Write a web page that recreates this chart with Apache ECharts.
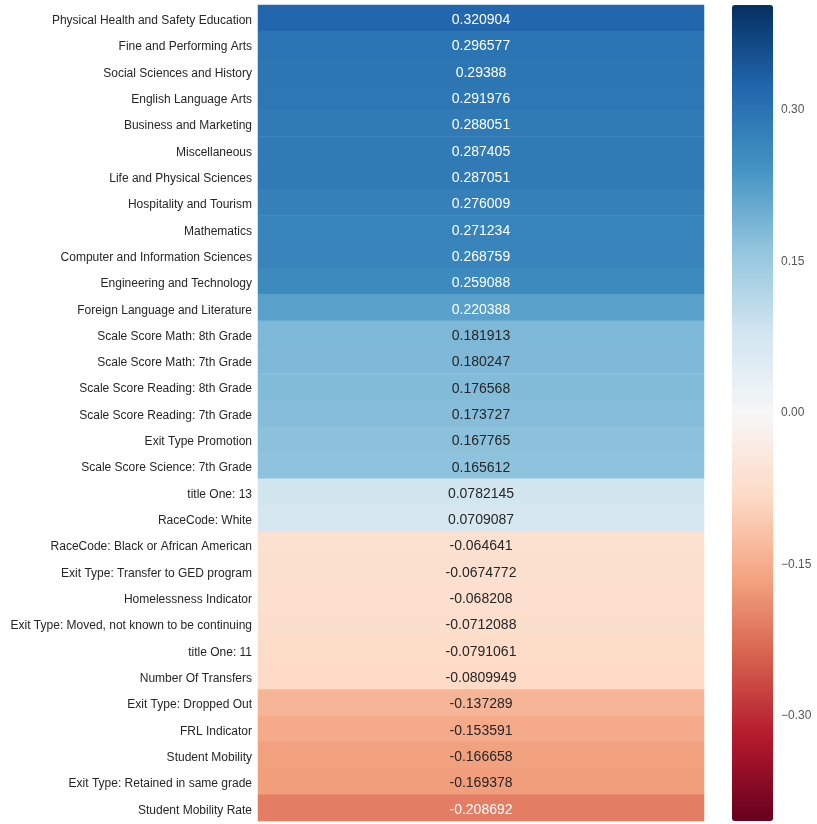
<!DOCTYPE html>
<html>
<head>
<meta charset="utf-8">
<script src="https://cdn.jsdelivr.net/npm/echarts@6/dist/echarts.min.js"></script>
<style>
  html, body { margin: 0; padding: 0; background: #fff; }
  #chart { width: 817px; height: 824px; }
</style>
</head>
<body>
<div id="chart"></div>
<script>
// 特征名称（从上到下）
var features = [
  'Physical Health and Safety Education',
  'Fine and Performing Arts',
  'Social Sciences and History',
  'English Language Arts',
  'Business and Marketing',
  'Miscellaneous',
  'Life and Physical Sciences',
  'Hospitality and Tourism',
  'Mathematics',
  'Computer and Information Sciences',
  'Engineering and Technology',
  'Foreign Language and Literature',
  'Scale Score Math: 8th Grade',
  'Scale Score Math: 7th Grade',
  'Scale Score Reading: 8th Grade',
  'Scale Score Reading: 7th Grade',
  'Exit Type Promotion',
  'Scale Score Science: 7th Grade',
  'title One: 13',
  'RaceCode: White',
  'RaceCode: Black or African American',
  'Exit Type: Transfer to GED program',
  'Homelessness Indicator',
  'Exit Type: Moved, not known to be continuing',
  'title One: 11',
  'Number Of Transfers',
  'Exit Type: Dropped Out',
  'FRL Indicator',
  'Student Mobility',
  'Exit Type: Retained in same grade',
  'Student Mobility Rate'
];
// 相关系数
var corrValues = [
  0.320904, 0.296577, 0.29388, 0.291976, 0.288051, 0.287405, 0.287051,
  0.276009, 0.271234, 0.268759, 0.259088, 0.220388, 0.181913, 0.180247,
  0.176568, 0.173727, 0.167765, 0.165612, 0.0782145, 0.0709087,
  -0.064641, -0.0674772, -0.068208, -0.0712088, -0.0791061, -0.0809949,
  -0.137289, -0.153591, -0.166658, -0.169378, -0.208692
];
var colorbarTicks = [-0.3, -0.15, 0, 0.15, 0.3];
var rdbu = ['#67001f', '#b2182b', '#d6604d', '#f4a582', '#fddbc7', '#f7f7f7',
  '#d1e5f0', '#92c5de', '#4393c3', '#2166ac', '#053061'];
var vLimit = 0.404;

var cells = corrValues.map(function (v, i) {
  return {
    value: [0, i, v],
    label: { color: Math.abs(v) > 0.2 ? '#ffffff' : '#262626' }
  };
});

var chart = echarts.init(document.getElementById('chart'));
chart.setOption({
  animation: false,
  grid: [
    { left: 258, right: 113, top: 5, bottom: 3 },
    { left: 732, width: 41, top: 5, bottom: 3 }
  ],
  xAxis: [
    { type: 'category', data: ['corr'], gridIndex: 0, show: false },
    { type: 'value', gridIndex: 1, show: false }
  ],
  yAxis: [
    {
      type: 'category',
      data: features,
      inverse: true,
      gridIndex: 0,
      axisLine: { show: false },
      axisTick: { show: false },
      splitLine: { show: false },
      axisLabel: {
        color: '#262626', fontSize: 12, margin: 6,
        fontFamily: 'Liberation Sans',
        formatter: '{t|{value}}',
        rich: { t: { padding: [5, 0, 0, 0], fontSize: 12, color: '#262626', fontFamily: 'Liberation Sans' } }
      }
    },
    {
      type: 'value',
      gridIndex: 1,
      min: -vLimit,
      max: vLimit,
      position: 'right',
      axisLine: { show: false },
      axisTick: { show: false },
      splitLine: { show: false },
      axisLabel: {
        customValues: colorbarTicks,
        color: '#555555',
        fontSize: 12,
        margin: 8,
        fontFamily: 'Liberation Sans',
        formatter: function (v) {
          var s = Math.abs(v).toFixed(2);
          return v < -1e-9 ? '\u2212' + s : s;
        }
      }
    }
  ],
  visualMap: {
    type: 'continuous',
    min: -vLimit,
    max: vLimit,
    dimension: 2,
    seriesIndex: 0,
    calculable: false,
    left: 732,
    top: 5,
    padding: 0,
    itemWidth: 41,
    itemHeight: 816,
    text: null,
    showLabel: false,
    inRange: { color: rdbu }
  },
  series: [{
    type: 'heatmap',
    xAxisIndex: 0,
    yAxisIndex: 0,
    data: cells,
    label: {
      show: true,
      fontSize: 14,
      fontFamily: 'Liberation Sans',
      offset: [0, 2],
      formatter: function (p) { return String(p.value[2]); }
    },
    itemStyle: { borderWidth: 0 }
  }]
});
</script>
</body>
</html>
